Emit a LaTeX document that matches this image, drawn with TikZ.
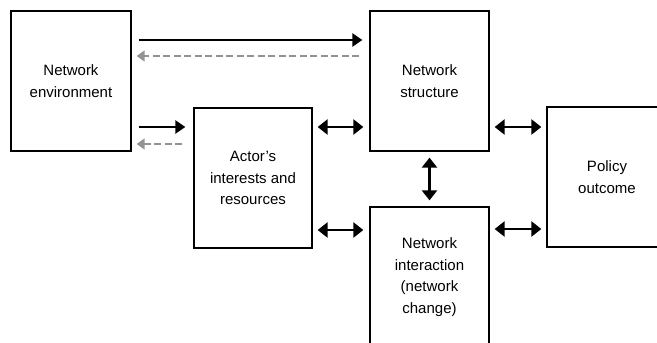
\documentclass[tikz,border=0pt]{standalone}
\usepackage{fontspec}
\setmainfont{Liberation Sans}
\usetikzlibrary{arrows.meta}
\begin{document}
\begin{tikzpicture}[x=1pt,y=-1pt,
  box/.style={draw=black,line width=1.3pt,rectangle,inner sep=0pt,minimum height=140pt,align=center,
    font=\fontsize{15}{21.5}\selectfont},
  solidarr/.style={line width=2.6pt,-{Triangle[length=10pt,width=13pt]}},
  bothARR/.style={line width=2.6pt,{Triangle[length=10pt,width=15pt]}-{Triangle[length=10pt,width=15pt]}},
  dasharr/.style={line width=1.8pt,draw=gray!85,dash pattern=on 7pt off 3.5pt,-{Triangle[length=8pt,width=11pt]}}]
\useasboundingbox (0,0) rectangle (657,343);
\clip (0,0) rectangle (657,343);
\node[box,minimum width=120pt] (env) at (71,81) {Network\\environment};
\node[box,minimum width=118pt] (actor) at (253,178) {Actor’s\\interests and\\resources};
\node[box,minimum width=119pt] (struct) at (429.5,81) {Network\\structure};
\node[box,minimum width=119pt] (inter) at (429.5,277) {Network\\interaction\\(network\\change)};
\node[box,minimum width=120pt] (policy) at (607,177) {Policy\\outcome};
\draw[solidarr] ([shift={(7,-41)}]env.east) -- ([shift={(-7,-41)}]struct.west);
\draw[dasharr] ([shift={(-10,-25)}]struct.west) -- ([shift={(5,-25)}]env.east);
\draw[solidarr] ([shift={(7,46)}]env.east) -- ([shift={(-8,-51)}]actor.west);
\draw[dasharr] ([shift={(-11,-34)}]actor.west) -- ([shift={(5,63)}]env.east);
\draw[bothARR] ([shift={(5,-51)}]actor.east) -- ([shift={(-6,46)}]struct.west);
\draw[bothARR] ([shift={(5,52)}]actor.east) -- ([shift={(-6,-47)}]inter.west);
\draw[bothARR] ([shift={(0,6)}]struct.south) -- ([shift={(0,-6)}]inter.north);
\draw[bothARR] ([shift={(5,46)}]struct.east) -- ([shift={(-5,-50)}]policy.west);
\draw[bothARR] ([shift={(5,-48)}]inter.east) -- ([shift={(-5,52)}]policy.west);
\end{tikzpicture}
\end{document}
